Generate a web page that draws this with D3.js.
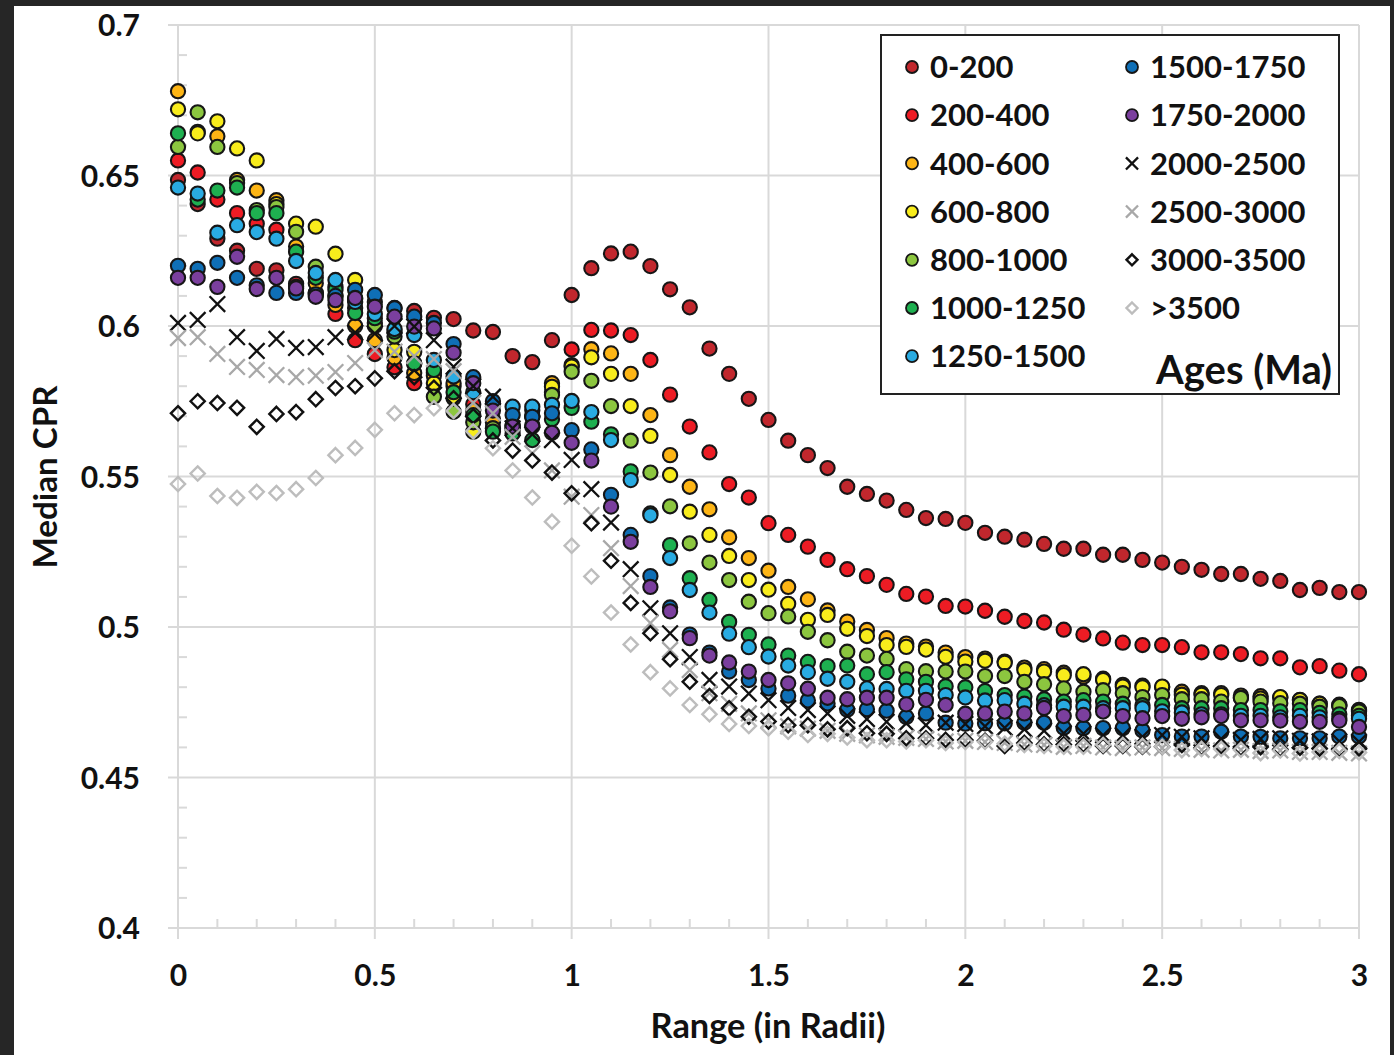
<!DOCTYPE html>
<html><head><meta charset="utf-8">
<script src="https://cdn.jsdelivr.net/npm/d3@7"></script>
<style>body{margin:0;background:#262626;}svg{display:block;}</style>
</head><body>
<svg id="c" width="1394" height="1055"></svg>
<script>
// ---------- DATA ----------
const rangeRadii = [0,0.05,0.1,0.15,0.2,0.25,0.3,0.35,0.4,0.45,0.5,0.55,0.6,0.65,0.7,0.75,0.8,0.85,0.9,0.95,
  1,1.05,1.1,1.15,1.2,1.25,1.3,1.35,1.4,1.45,1.5,1.55,1.6,1.65,1.7,1.75,1.8,1.85,1.9,1.95,
  2,2.05,2.1,2.15,2.2,2.25,2.3,2.35,2.4,2.45,2.5,2.55,2.6,2.65,2.7,2.75,2.8,2.85,2.9,2.95,3];
const ageLabels = ["0-200","200-400","400-600","600-800","800-1000","1000-1250","1250-1500",
  "1500-1750","1750-2000","2000-2500","2500-3000","3000-3500",">3500"];
const age0_200 = [.6485,.6405,.629,.625,.619,.6185,.614,.611,.610,.609,.608,.606,.605,.6027,.6023,.5985,.598,.590,.588,.5953,
  .6103,.6192,.6241,.6247,.6199,.6122,.6062,.5925,.5841,.5758,.5688,.5619,.5571,.5528,.5466,.5442,.542,.5389,.5362,.5359,
  .5346,.5313,.530,.529,.5276,.526,.526,.524,.524,.5223,.5214,.520,.519,.5176,.5176,.516,.5153,.5123,.513,.5116,.5116];
const age200_400 = [.655,.651,.642,.6375,.634,.632,.613,.611,.604,.5953,.5907,.5863,.581,.5845,.580,.574,.569,.567,.570,.578,
  .5922,.5987,.5985,.597,.5887,.5772,.5666,.558,.5475,.543,.5345,.5306,.5267,.5223,.5192,.5169,.514,.511,.5101,.507,
  .5068,.5054,.5034,.502,.5015,.4991,.4975,.4962,.4948,.494,.494,.4933,.4916,.4916,.491,.4896,.4896,.4866,.487,.4855,.4843];
const age400_600 = [.678,.6645,.663,.6485,.645,.6418,.6264,.6142,.607,.600,.5953,.5895,.5844,.5835,.581,.572,.568,.566,.572,.581,
  .587,.5923,.5909,.5841,.5704,.5571,.5466,.5391,.5298,.5229,.5187,.5133,.5092,.5055,.5018,.499,.4963,.4945,.4935,.4915,
  .490,.4895,.4885,.4865,.486,.4848,.4835,.4828,.4808,.4805,.480,.4785,.478,.478,.4772,.477,.4765,.4758,.4745,.4742,.4725];
const age600_800 = [.672,.664,.668,.659,.655,.6405,.634,.633,.624,.6153,.601,.592,.5914,.581,.576,.5649,.566,.567,.570,.5798,
  .5865,.5896,.5841,.5734,.5635,.5505,.5383,.5306,.5236,.5156,.5124,.5077,.5024,.504,.4994,.497,.494,.4934,.4925,.4901,
  .4885,.4888,.4881,.4857,.4852,.484,.4843,.4824,.4802,.480,.4802,.4775,.4775,.4774,.4765,.4762,.4767,.4757,.4745,.474,.4722];
const age800_1000 = [.6595,.671,.6595,.6475,.6385,.6395,.6313,.6197,.613,.606,.600,.5965,.5875,.5765,.5715,.568,.566,.5655,.567,.5771,
  .5848,.5818,.5734,.5619,.5513,.5401,.5278,.5214,.5156,.5084,.5046,.5035,.4984,.4956,.4918,.4905,.4894,.486,.4853,.4852,
  .4852,.4837,.4837,.4818,.481,.4796,.4785,.479,.478,.4767,.4774,.476,.476,.4752,.4764,.4752,.4747,.4745,.4735,.4737,.4719];
const age1000_1250 = [.664,.642,.645,.646,.6375,.6375,.6247,.616,.612,.6043,.6026,.5981,.5876,.5854,.578,.5704,.5649,.5643,.5621,.569,
  .5728,.5682,.564,.5517,.5377,.5272,.5162,.509,.5017,.4974,.4942,.4905,.4884,.487,.4872,.4843,.485,.4826,.4818,.4803,
  .480,.4787,.4774,.4769,.476,.4752,.4757,.4752,.4745,.474,.4741,.473,.473,.473,.4724,.4724,.472,.4724,.4715,.471,.4705];
const age1250_1500 = [.646,.644,.631,.6335,.6312,.629,.6216,.6176,.6153,.608,.604,.599,.597,.5887,.5832,.578,.574,.5732,.5732,.5738,
  .5751,.5714,.5621,.5488,.5371,.5229,.5123,.5048,.4978,.4933,.4902,.4872,.485,.4828,.4818,.4796,.4794,.4788,.4788,.4774,
  .4766,.4756,.4757,.4745,.474,.4735,.4735,.473,.473,.473,.472,.4716,.471,.471,.4705,.4705,.470,.4705,.470,.4695,.4695];
const age1500_1750 = [.620,.619,.621,.616,.6135,.611,.611,.6105,.610,.612,.6103,.6059,.6031,.601,.594,.583,.575,.5704,.5698,.571,
  .5654,.559,.5439,.5306,.5169,.5065,.4975,.4915,.4852,.4824,.4796,.4772,.4756,.4746,.4725,.4727,.4722,.4701,.4713,.4682,
  .4679,.468,.468,.4682,.4682,.4665,.4664,.4664,.4664,.4656,.4641,.4636,.4636,.4652,.4636,.4635,.463,.463,.463,.4636,.4636];
const age1750_2000 = [.616,.616,.613,.623,.6123,.616,.6125,.6097,.6086,.6093,.6064,.6031,.5998,.5992,.5911,.581,.5719,.5666,.5666,.5645,
  .5612,.5553,.540,.5283,.5133,.5052,.4963,.4905,.4882,.4852,.4824,.4813,.4795,.4765,.476,.4765,.4765,.4743,.4758,.4741,
  .4712,.4713,.4719,.4713,.4731,.4704,.4708,.4719,.4704,.4697,.4704,.4695,.470,.4704,.469,.469,.4689,.4685,.4685,.4689,.4668];
const age2000_2500 = [.601,.602,.6073,.5963,.5917,.5957,.5927,.593,.5963,.5978,.5975,.600,.5998,.5953,.5865,.580,.5765,.566,.564,.5621,
  .5555,.5458,.5347,.5192,.5062,.4979,.490,.4824,.4802,.4779,.4757,.4731,.4724,.4713,.4705,.4694,.4685,.468,.4674,.4682,
  .4678,.467,.4665,.466,.4655,.4647,.4645,.464,.464,.4635,.4641,.4635,.463,.4628,.4625,.4628,.463,.4622,.462,.462,.4618];
const age2500_3000 = [.596,.5963,.5907,.5864,.5854,.5837,.583,.5835,.5847,.5877,.592,.5915,.590,.589,.585,.5745,.571,.5632,.5577,.552,
  .5433,.5372,.5262,.5136,.5013,.4924,.4857,.478,.4745,.4713,.469,.467,.4662,.4655,.4645,.464,.4635,.4632,.4628,.462,
  .4622,.4618,.4615,.461,.4608,.4602,.4605,.460,.4598,.460,.4598,.4595,.4592,.459,.4592,.4588,.459,.4585,.4585,.4582,.458];
const age3000_3500 = [.571,.575,.5744,.5728,.5665,.5708,.5714,.5757,.5794,.580,.5826,.585,.583,.5795,.576,.570,.562,.5586,.5553,.5513,
  .5444,.5345,.522,.508,.4979,.4893,.4818,.4771,.473,.4702,.4686,.4674,.4674,.466,.4664,.4647,.4645,.463,.463,.4625,
  .4625,.4622,.4605,.4615,.461,.461,.4608,.4605,.4605,.4602,.4602,.4608,.4598,.4603,.4597,.4601,.4594,.4599,.4596,.4592,.4597];
const ageOver3500 = [.5475,.551,.5435,.5429,.5449,.5445,.5458,.5495,.5571,.5595,.5655,.571,.5704,.5727,.5718,.565,.5594,.552,.543,.535,
  .527,.5168,.5048,.4942,.485,.4796,.4741,.471,.4678,.4671,.4664,.4652,.4641,.4645,.4633,.4624,.4624,.462,.4624,.4615,
  .4618,.4619,.4612,.4608,.4605,.4602,.4602,.4608,.4608,.4605,.4602,.4591,.4595,.4595,.4592,.4581,.459,.458,.4585,.4588,.4583];
const xTicks = [0,0.5,1,1.5,2,2.5,3];
const yTicks = [0.4,0.45,0.5,0.55,0.6,0.65,0.7];
const xTitle = "Range (in Radii)";
const yTitle = "Median CPR";
const legendTitle = "Ages (Ma)";

// ---------- STYLE ----------
const seriesValues = [age0_200,age200_400,age400_600,age600_800,age800_1000,age1000_1250,age1250_1500,
  age1500_1750,age1750_2000,age2000_2500,age2500_3000,age3000_3500,ageOver3500];
const styles = [
  {shape:"circle",fill:"#C1272D"},{shape:"circle",fill:"#ED1C24"},{shape:"circle",fill:"#FDB515"},
  {shape:"circle",fill:"#F8EC1C"},{shape:"circle",fill:"#8CC63F"},{shape:"circle",fill:"#1EB050"},
  {shape:"circle",fill:"#29ABE2"},{shape:"circle",fill:"#0F6FB6"},{shape:"circle",fill:"#7B3F9E"},
  {shape:"x",stroke:"#111"},{shape:"x",stroke:"#A8A8A8"},{shape:"diamond",stroke:"#111"},{shape:"diamond",stroke:"#BDBDBD"}
];
const FONT = "Lato, 'Open Sans', sans-serif";

const svg = d3.select("#c");
svg.append("rect").attr("x",14).attr("y",6).attr("width",1376).attr("height",1049).attr("fill","#fff");

const x = d3.scaleLinear().domain([0,3]).range([178,1359]);
const y = d3.scaleLinear().domain([0.4,0.7]).range([928,25]);
const grid = "#D9D9D9";

// gridlines + major ticks
const g = svg.append("g");
g.selectAll(".hg").data(yTicks).join("line")
  .attr("x1",168).attr("x2",x(3)).attr("y1",d=>y(d)).attr("y2",d=>y(d))
  .attr("stroke",grid).attr("stroke-width",2);
g.selectAll(".vg").data(xTicks).join("line")
  .attr("x1",d=>x(d)).attr("x2",d=>x(d)).attr("y1",y(0.7)).attr("y2",y(0.4)+11)
  .attr("stroke",grid).attr("stroke-width",2);
// minor ticks
const xMinor = d3.range(0,30).map(i=>i/10).filter(v=>Math.abs(v*2-Math.round(v*2))>1e-6);
g.selectAll(".xm").data(xMinor).join("line")
  .attr("x1",d=>x(d)).attr("x2",d=>x(d)).attr("y1",y(0.4)).attr("y2",y(0.4)-9)
  .attr("stroke",grid).attr("stroke-width",2);
const yMinor = d3.range(40,70).map(i=>i/100).filter(v=>Math.abs(v*20-Math.round(v*20))>1e-6);
g.selectAll(".ym").data(yMinor).join("line")
  .attr("x1",x(0)).attr("x2",x(0)+9).attr("y1",d=>y(d)).attr("y2",d=>y(d))
  .attr("stroke",grid).attr("stroke-width",2);

// tick labels via d3 axes (domain/ticks hidden, labels kept)
const yAxis = svg.append("g").attr("transform",`translate(${x(0)-35},0)`)
  .call(d3.axisLeft(y).tickValues(yTicks).tickFormat(d3.format("~g")).tickSize(0));
const xAxis = svg.append("g").attr("transform",`translate(0,${y(0.4)+34})`)
  .call(d3.axisBottom(x).tickValues(xTicks).tickFormat(d3.format("~g")).tickSize(0));
[yAxis,xAxis].forEach(a=>{
  a.select(".domain").remove();
  a.selectAll("text").attr("font-family",FONT).attr("font-weight",700)
    .attr("font-size",30).attr("fill","#111");
});
yAxis.selectAll("text").attr("dx",0).attr("dy","0.36em");
xAxis.selectAll("text").attr("dy","0.71em");

// markers
function xPath(s){return `M${-s},${-s}L${s},${s}M${-s},${s}L${s},${-s}`;}
function dPath(s){return `M0,${-s}L${s},0L0,${s}L${-s},0Z`;}
function drawMarker(sel, st, r, legend){
  if(st.shape==="circle"){
    sel.append("circle").attr("r",r).attr("fill",st.fill).attr("stroke","#161616").attr("stroke-width",legend?1.8:2.1);
  } else if(st.shape==="x"){
    sel.append("path").attr("d",xPath(r*1.1)).attr("stroke",st.stroke).attr("stroke-width",2.3).attr("fill","none");
  } else {
    sel.append("path").attr("d",dPath(r*1.0)).attr("stroke",st.stroke).attr("stroke-width",2.4).attr("fill","none");
  }
}
const plot = svg.append("g");
seriesValues.forEach((vals,si)=>{
  const sg = plot.append("g");
  vals.forEach((v,i)=>{
    const m = sg.append("g").attr("transform",`translate(${x(rangeRadii[i])},${y(v)})`);
    drawMarker(m, styles[si], 7.1, false);
  });
});

// axis titles
function fit(t, w){const base=+t.attr("font-size");const L=t.node().getComputedTextLength();t.attr("font-size",base*w/L);}
const yt = svg.append("text").attr("transform","translate(57,477) rotate(-90)").attr("text-anchor","middle")
  .attr("font-family",FONT).attr("font-weight",700).attr("font-size",28).attr("fill","#111").text(yTitle);
fit(yt,183);
const xt = svg.append("text").attr("x",768).attr("y",1038).attr("text-anchor","middle")
  .attr("font-family",FONT).attr("font-weight",700).attr("font-size",28).attr("fill","#111").text(xTitle);
fit(xt,235);

// legend
const lg = svg.append("g");
lg.append("rect").attr("x",881).attr("y",35).attr("width",458).attr("height",359)
  .attr("fill","#fff").attr("stroke","#222").attr("stroke-width",2);
ageLabels.forEach((lab,i)=>{
  const col = i<7?0:1, row = i<7?i:i-7;
  const mx = col===0?912:1132, cy = 67+row*48.2;
  const m = lg.append("g").attr("transform",`translate(${mx},${cy})`);
  drawMarker(m, styles[i], styles[i].shape==="circle"?6:5.5, true);
  lg.append("text").attr("x",mx+18).attr("y",cy).attr("dy","0.36em")
    .attr("font-family",FONT).attr("font-weight",700).attr("font-size",31).attr("fill","#111").text(lab);
});
const at = lg.append("text").attr("x",1332).attr("y",384).attr("text-anchor","end")
  .attr("font-family",FONT).attr("font-weight",700).attr("font-size",34).attr("fill","#111").text(legendTitle);
fit(at,176);
</script>
</body></html>
